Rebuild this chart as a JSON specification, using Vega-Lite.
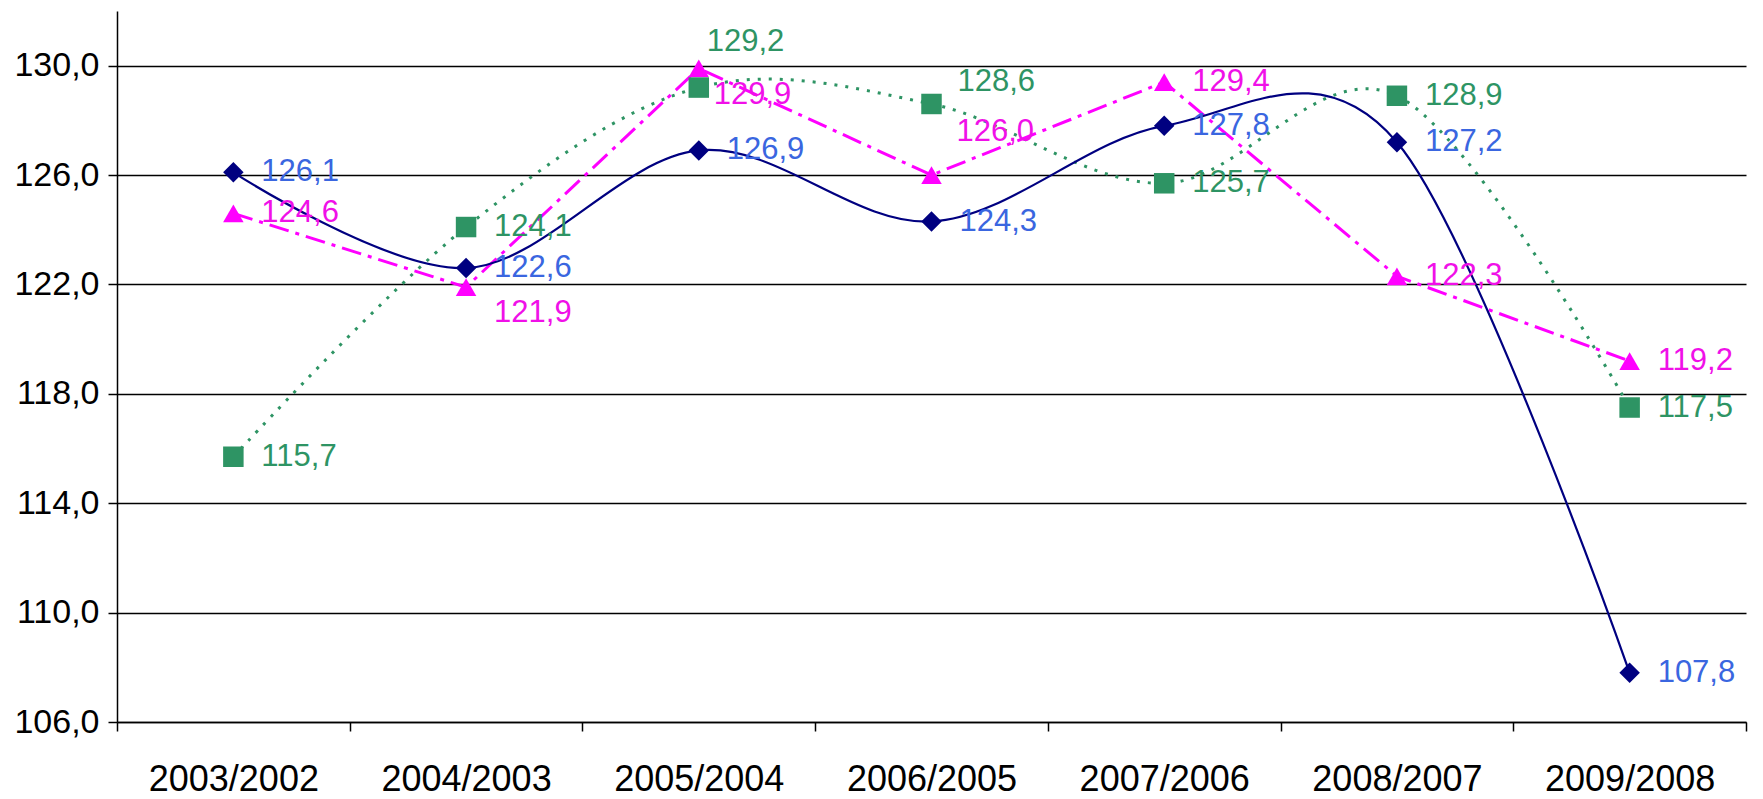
{
  "$schema": "https://vega.github.io/schema/vega-lite/v6.json",
  "autosize": "none",
  "width": 1629,
  "height": 711,
  "padding": {"left": 117, "top": 11, "right": 17, "bottom": 77},
  "background": "white",
  "config": {
    "locale": {"number": {"decimal": ",", "thousands": " ", "grouping": [3], "currency": ["", ""]}},
    "view": {"stroke": null},
    "font": "Liberation Sans"
  },
  "data": {"values": [
    {"category": "2003/2002", "series": "A", "value": 126.1},
    {"category": "2004/2003", "series": "A", "value": 122.6},
    {"category": "2005/2004", "series": "A", "value": 126.9},
    {"category": "2006/2005", "series": "A", "value": 124.3},
    {"category": "2007/2006", "series": "A", "value": 127.8},
    {"category": "2008/2007", "series": "A", "value": 127.2},
    {"category": "2009/2008", "series": "A", "value": 107.8},
    {"category": "2003/2002", "series": "B", "value": 124.6},
    {"category": "2004/2003", "series": "B", "value": 121.9},
    {"category": "2005/2004", "series": "B", "value": 129.9},
    {"category": "2006/2005", "series": "B", "value": 126.0},
    {"category": "2007/2006", "series": "B", "value": 129.4},
    {"category": "2008/2007", "series": "B", "value": 122.3},
    {"category": "2009/2008", "series": "B", "value": 119.2},
    {"category": "2003/2002", "series": "C", "value": 115.7},
    {"category": "2004/2003", "series": "C", "value": 124.1},
    {"category": "2005/2004", "series": "C", "value": 129.2},
    {"category": "2006/2005", "series": "C", "value": 128.6},
    {"category": "2007/2006", "series": "C", "value": 125.7},
    {"category": "2008/2007", "series": "C", "value": 128.9},
    {"category": "2009/2008", "series": "C", "value": 117.5}
  ]},
  "encoding": {
    "x": {
      "field": "category", "type": "nominal", "sort": null,
      "scale": {"type": "band", "paddingInner": 0, "paddingOuter": 0},
      "axis": {
        "title": null, "labelAngle": 0, "labelFontSize": 36, "labelColor": "black",
        "labelFont": "Liberation Sans", "tickBand": "extent", "tickSize": 9, "tickColor": "black",
        "tickWidth": 1.5, "domainColor": "black", "domainWidth": 1.5, "labelPadding": 31, "grid": false
      }
    },
    "y": {
      "field": "value", "type": "quantitative",
      "scale": {"domain": [106, 132], "nice": false, "zero": false},
      "axis": {
        "title": null, "values": [106, 110, 114, 118, 122, 126, 130], "format": ".1f",
        "labelFontSize": 34, "labelColor": "black", "labelFont": "Liberation Sans",
        "tickSize": 9, "tickColor": "black", "tickWidth": 1.5, "labelPadding": 9,
        "domainColor": "black", "domainWidth": 1.5,
        "grid": true, "gridColor": "black", "gridWidth": 1.5, "gridOpacity": 1
      }
    }
  },
  "layer": [
    {
      "transform": [{"filter": "datum.series == 'C'"}],
      "mark": {"type": "line", "interpolate": "cardinal", "color": "#2E9464", "strokeWidth": 3, "strokeDash": [3, 8]},
      "encoding": {}
    },
    {
      "transform": [{"filter": "datum.series == 'B'"}],
      "mark": {"type": "line", "interpolate": "linear", "color": "#FF00FF", "strokeWidth": 3, "strokeDash": [20, 7, 4, 7]},
      "encoding": {}
    },
    {
      "transform": [{"filter": "datum.series == 'A'"}],
      "mark": {"type": "line", "interpolate": "cardinal", "color": "#000080", "strokeWidth": 2.2},
      "encoding": {}
    },
    {
      "mark": {"type": "point", "filled": true, "opacity": 1},
      "encoding": {
        "shape": {"field": "series", "type": "nominal", "legend": null,
          "scale": {"domain": ["A", "B", "C"], "range": ["diamond", "triangle-up", "square"]}},
        "color": {"field": "series", "type": "nominal", "legend": null,
          "scale": {"domain": ["A", "B", "C"], "range": ["#000080", "#FF00FF", "#2E9464"]}},
        "size": {"field": "series", "type": "nominal", "legend": null,
          "scale": {"domain": ["A", "B", "C"], "range": [420, 420, 290]}}
      }
    },
    {
      "layer": [
        {
          "transform": [{"filter": "!((datum.series == 'B' && (datum.category == '2004/2003' || datum.category == '2005/2004' || datum.category == '2006/2005')) || (datum.series == 'C' && (datum.category == '2005/2004' || datum.category == '2006/2005')))"}],
          "mark": {"type": "text", "align": "left", "baseline": "middle", "dx": 28, "dy": 0, "fontSize": 31}
        },
        {
          "transform": [{"filter": "datum.series == 'B' && datum.category == '2004/2003'"}],
          "mark": {"type": "text", "align": "left", "baseline": "middle", "dx": 28, "dy": 26, "fontSize": 31}
        },
        {
          "transform": [{"filter": "datum.series == 'B' && datum.category == '2005/2004'"}],
          "mark": {"type": "text", "align": "left", "baseline": "middle", "dx": 15, "dy": 27, "fontSize": 31}
        },
        {
          "transform": [{"filter": "datum.series == 'B' && datum.category == '2006/2005'"}],
          "mark": {"type": "text", "align": "left", "baseline": "middle", "dx": 25, "dy": -43, "fontSize": 31}
        },
        {
          "transform": [{"filter": "datum.series == 'C' && datum.category == '2005/2004'"}],
          "mark": {"type": "text", "align": "left", "baseline": "middle", "dx": 8, "dy": -46, "fontSize": 31}
        },
        {
          "transform": [{"filter": "datum.series == 'C' && datum.category == '2006/2005'"}],
          "mark": {"type": "text", "align": "left", "baseline": "middle", "dx": 26, "dy": -22, "fontSize": 31}
        }
      ],
      "encoding": {
        "text": {"field": "value", "type": "quantitative", "format": ".1f"},
        "color": {"field": "series", "type": "nominal", "legend": null,
          "scale": {"domain": ["A", "B", "C"], "range": ["#3A66E0", "#F010E8", "#2E9464"]}}
      }
    }
  ],
  "resolve": {"scale": {"color": "independent"}}
}
